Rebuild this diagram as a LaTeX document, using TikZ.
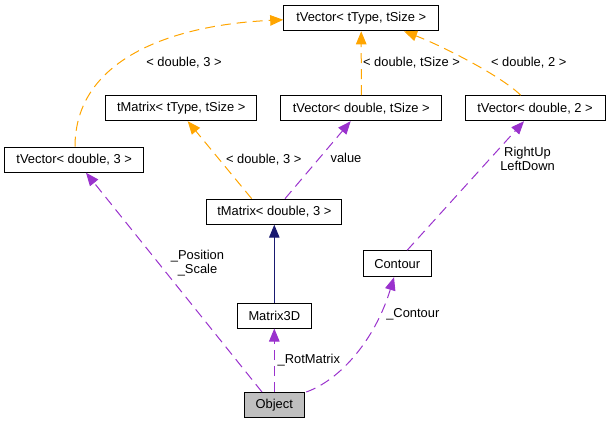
\documentclass[tikz,border=0pt]{standalone}
\usepackage{fontspec}
\setmainfont{Liberation Sans}
\usetikzlibrary{arrows.meta,calc}
\definecolor{dxorange}{RGB}{255,165,0}
\definecolor{dxpurple}{RGB}{154,50,205}
\definecolor{dxblue}{RGB}{25,25,112}
\definecolor{dxgray}{RGB}{191,191,191}
\begin{document}
\begin{tikzpicture}[x=1pt,y=-1pt,
  font=\fontsize{12.9}{14.5}\selectfont,
  cls/.style={draw=black, line width=1pt, fill=white, minimum height=25pt, inner sep=0pt, anchor=center},
  tiparrow/.style={-{Triangle[length=13pt,width=10.5pt]}},
  inh/.style={tiparrow, draw=dxorange, fill=none, dash pattern=on 10pt off 6pt, line width=1pt},
  usage/.style={tiparrow, draw=dxpurple, dash pattern=on 10pt off 6pt, line width=1pt},
  deriv/.style={tiparrow, draw=dxblue, line width=1pt},
  lbl/.style={align=center, inner sep=0pt, text=black}]
\useasboundingbox (0,0) rectangle (609,424);

% class boxes
\node[cls, minimum width=155pt]   (tvTT) at (361.2,18.3)  {tVector< tType, tSize >};
\node[cls, minimum width=151pt]   (tmTT) at (181.2,108.2) {tMatrix< tType, tSize >};
\node[cls, minimum width=160.7pt] (tvDS) at (361.3,108.2) {tVector< double, tSize >};
\node[cls, minimum width=140pt]   (tvD2) at (535,108.2)   {tVector< double, 2 >};
\node[cls, minimum width=139pt]   (tvD3) at (74.2,159.7)  {tVector< double, 3 >};
\node[cls, minimum width=134.7pt] (tmD3) at (274.3,211.7) {tMatrix< double, 3 >};
\node[cls, minimum width=67.7pt, minimum height=26pt] (cont) at (397.2,263.7) {Contour};
\node[cls, minimum width=73.5pt]  (m3d)  at (274.3,315.5) {Matrix3D};
\node[cls, minimum width=60pt, fill=dxgray] (obj) at (274.3,405) {Object};

% orange template instantiation edges
\draw[inh] ([xshift=0.8pt]tvD3.north) .. controls (75,60) and (170,25) .. ([yshift=-1.5pt]tvTT.west);
\draw[inh] (tvDS.north) -- (tvTT.south);
\draw[inh] ([xshift=-14.3pt]tvD2.north) .. controls (500,75) and (440,45) .. ([xshift=42.8pt]tvTT.south);
\draw[inh] ([xshift=-22.6pt]tmD3.north) -- ([xshift=6.5pt]tmTT.south);

% usage edges
\draw[usage] ([xshift=10.7pt]tmD3.north) -- ([xshift=-10.6pt]tvDS.south);
\draw[usage] (obj.north) -- (m3d.south);
\draw[usage] ([xshift=-12.3pt]obj.north) -- ([xshift=11.8pt]tvD3.south);
\draw[usage] ([xshift=1.4pt]obj.north east) .. controls (340,380) and (375,340) .. ([xshift=-3.2pt]cont.south);
\draw[usage] ([xshift=10pt]cont.north) -- ([xshift=-11pt]tvD2.south);

% derivation edge
\draw[deriv] (m3d.north) -- (tmD3.south);

% labels
\node[lbl] (l1) at (184,62.7)   {< double, 3 >};
\node[lbl] (l2) at (411.5,62.7) {< double, tSize >};
\node[lbl] (l3) at (528.7,62.7) {< double, 2 >};
\node[lbl] (l4) at (263.7,159.3) {< double, 3 >};
\node[lbl] (l5) at (346,158.3)   {value};
\node[lbl] (l6) at (527.5,158.8) {RightUp\\LeftDown};
\node[lbl] (l7) at (197.5,263.3) {\_Position\\\_Scale};
\node[lbl] (l8) at (412.8,314.3) {\_Contour};
\node[lbl] (l9) at (308.8,360)   {\_RotMatrix};
\end{tikzpicture}
\end{document}
